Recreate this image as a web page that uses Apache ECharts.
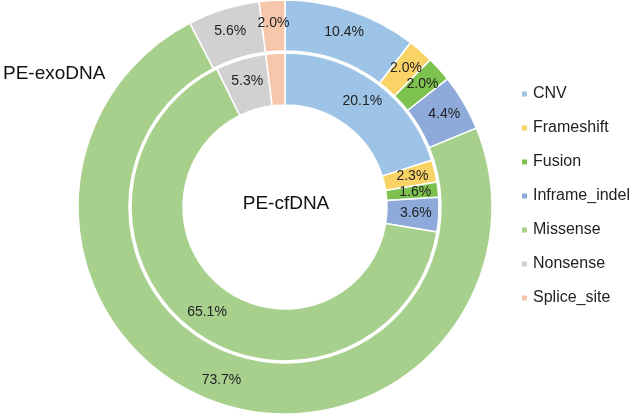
<!DOCTYPE html>
<html>
<head>
<meta charset="utf-8">
<script src="https://cdn.jsdelivr.net/npm/echarts@6/dist/echarts.min.js"></script>
<style>html,body{margin:0;padding:0;background:#fff}#c{width:634px;height:416px}</style>
</head>
<body>
<div id="c"></div>
<script>
var categories = ['CNV','Frameshift','Fusion','Inframe_indel','Missense','Nonsense','Splice_site'];
var exoValues = [10.4, 2.0, 2.0, 4.4, 73.7, 5.6, 2.0];
var cfValues = [20.1, 2.3, 1.6, 3.6, 65.1, 5.3, 2.0];
var colors = ['#9dc3e6','#fad366','#7dc24f','#8eaadb','#a8d08d','#d2d0d0','#f6c7aa'];

function toData(vals){ return categories.map(function(c,i){ return {name:c, value:vals[i]}; }); }
var font = '"Liberation Sans", Arial, Helvetica, sans-serif';
var chart = echarts.init(document.getElementById('c'));
var labelCfg = {
  show:true, position:'inside', fontSize:14, color:'#222', fontFamily:font,
  formatter:function(p){ return p.value.toFixed(1)+'%'; }
};
chart.setOption({
  color: colors,
  animation:false,
  graphic:[
    {type:'text', x:286, y:204, style:{text:'PE-cfDNA', fontSize:19, fill:'#111', fontFamily:font, align:'center', verticalAlign:'middle'}},
    {type:'text', x:3, y:74, style:{text:'PE-exoDNA', fontSize:19, fill:'#111', fontFamily:font, align:'left', verticalAlign:'middle'}}
  ],
  legend:{
    orient:'vertical', left:515, top:81, itemWidth:7, itemHeight:7, itemGap:18, itemTextGap:5,
    icon:'rect',
    textStyle:{fontSize:16, color:'#222', fontFamily:font, lineHeight:16},
    data:categories
  },
  series:[
    {type:'pie', name:'PE-exoDNA', center:[285,207], radius:[156,207], startAngle:90, clockwise:true,
     avoidLabelOverlap:false, label:labelCfg, labelLine:{show:false},
     itemStyle:{borderColor:'#fff', borderWidth:1.5}, data:toData(exoValues)},
    {type:'pie', name:'PE-cfDNA', center:[285,207], radius:[102,154], startAngle:90, clockwise:true,
     avoidLabelOverlap:false, label:labelCfg, labelLine:{show:false},
     itemStyle:{borderColor:'#fff', borderWidth:1.5}, data:toData(cfValues)}
  ]
});
</script>
</body>
</html>
